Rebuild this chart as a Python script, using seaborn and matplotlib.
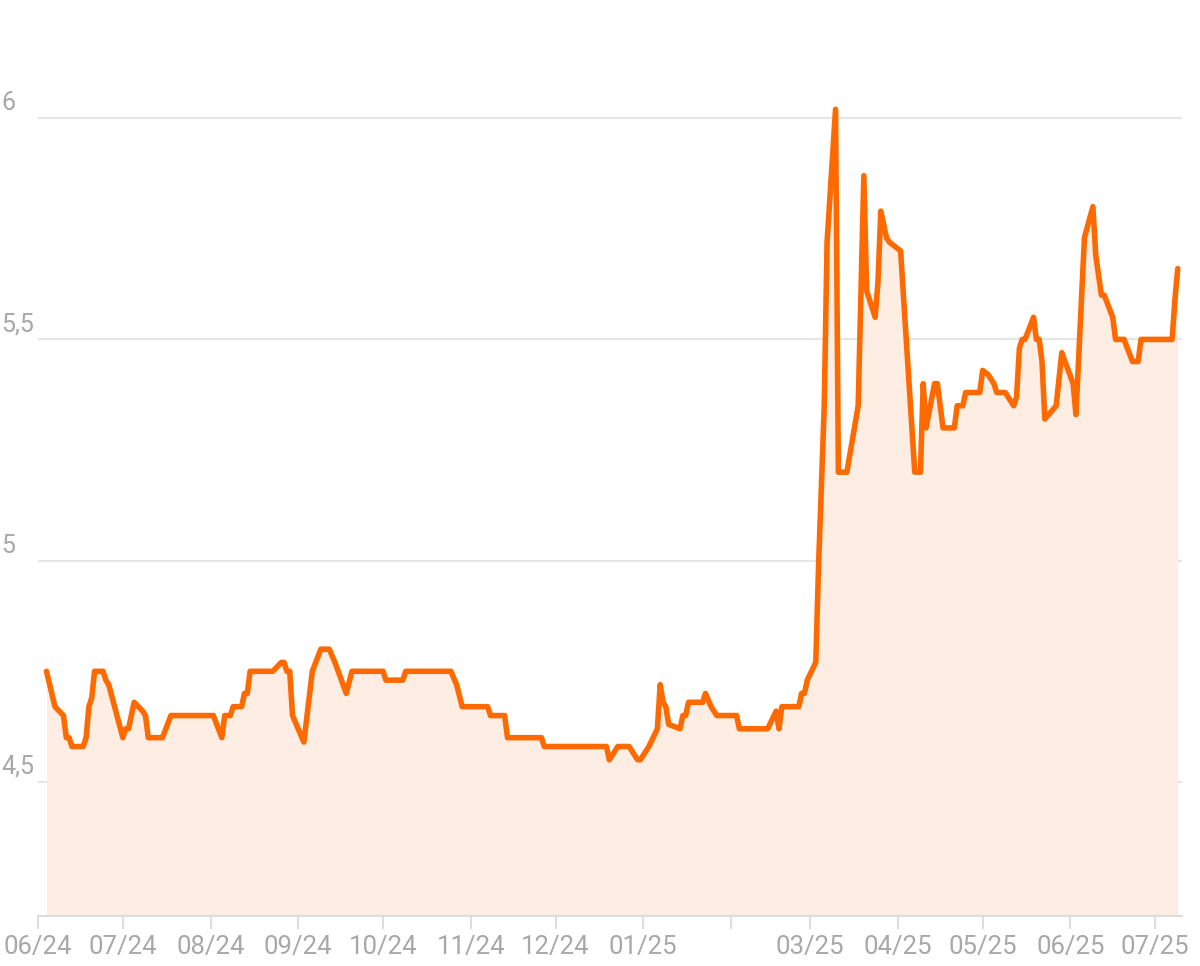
import matplotlib.pyplot as plt
import pandas as pd
import seaborn as sns

# Price history (days after 2024-06-01, price)
start = "2024-06-01"
day = [3, 6, 9, 10, 11, 12, 16, 17, 18, 19, 20, 23, 24, 25, 30, 31, 32, 34, 37, 38,
       39, 44, 47, 62, 65, 66, 68, 69, 72, 73, 74, 75, 83, 86, 87, 88, 89, 90, 94, 97,
       100, 103, 105, 109, 111, 122, 123, 129, 130, 146, 148, 150, 159, 160, 165, 166, 178, 179, 201, 202,
       205, 209, 212, 213, 215, 216, 219, 220, 221, 222, 223, 227, 228, 229, 230, 235, 236, 238, 240, 247,
       248, 258, 261, 262, 263, 269, 270, 271, 272, 275, 276, 278, 279, 282, 283, 286, 290, 292, 293, 296,
       297, 298, 300, 301, 303, 305, 310, 312, 313, 314, 317, 318, 320, 324, 325, 327, 328, 333, 334, 336,
       338, 339, 342, 345, 346, 347, 348, 349, 352, 353, 354, 355, 356, 360, 362, 366, 367, 370, 373, 374,
       376, 377, 380, 381, 384, 387, 389, 390, 401, 402, 403]
price = [4.75, 4.67, 4.65, 4.60, 4.60, 4.58, 4.58, 4.60, 4.67, 4.69, 4.75, 4.75, 4.73, 4.72, 4.60, 4.62, 4.62, 4.68, 4.66, 4.65,
         4.60, 4.60, 4.65, 4.65, 4.60, 4.65, 4.65, 4.67, 4.67, 4.70, 4.70, 4.75, 4.75, 4.77, 4.77, 4.75, 4.75, 4.65, 4.59, 4.75,
         4.80, 4.80, 4.77, 4.70, 4.75, 4.75, 4.73, 4.73, 4.75, 4.75, 4.72, 4.67, 4.67, 4.65, 4.65, 4.60, 4.60, 4.58, 4.58, 4.55,
         4.58, 4.58, 4.55, 4.55, 4.57, 4.58, 4.62, 4.72, 4.68, 4.67, 4.63, 4.62, 4.65, 4.65, 4.68, 4.68, 4.70, 4.67, 4.65, 4.65,
         4.62, 4.62, 4.66, 4.62, 4.67, 4.67, 4.70, 4.70, 4.73, 4.77, 4.99, 5.35, 5.72, 6.02, 5.20, 5.20, 5.35, 5.87, 5.61, 5.55,
         5.63, 5.79, 5.73, 5.72, 5.71, 5.70, 5.20, 5.20, 5.40, 5.30, 5.40, 5.40, 5.30, 5.30, 5.35, 5.35, 5.38, 5.38, 5.43, 5.42,
         5.40, 5.38, 5.38, 5.35, 5.37, 5.48, 5.50, 5.50, 5.55, 5.50, 5.50, 5.45, 5.32, 5.35, 5.47, 5.40, 5.33, 5.73, 5.80, 5.69,
         5.60, 5.60, 5.55, 5.50, 5.50, 5.45, 5.45, 5.50, 5.50, 5.59, 5.66]

y_ticks = [4.5, 5.0, 5.5, 6.0]
y_labels = ["4,5", "5", "5,5", "6"]
month_ticks = pd.date_range("2024-06-01", "2025-07-01", freq="MS")
month_labels = ["06/24", "07/24", "08/24", "09/24", "10/24", "11/24", "12/24",
                "01/25", "", "03/25", "04/25", "05/25", "06/25", "07/25"]

df = pd.DataFrame({"date": pd.Timestamp(start) + pd.to_timedelta(day, unit="D"),
                   "price": price})

sns.set_theme(style="white")
plt.rcParams["font.family"] = ["Roboto", "DejaVu Sans"]

line_color = "#ff6a00"
fill_color = "#fdede3"
text_color = "#a8a8a8"
grid_color = "#e6e6e6"

fig = plt.figure(figsize=(12, 9.66), dpi=100)
ax = fig.add_axes([38 / 1200, 50 / 966, 1144 / 1200, 916 / 966])

y_bottom = 4.197
ax.fill_between(df["date"], df["price"], y_bottom, color=fill_color, lw=0, zorder=1)
sns.lineplot(data=df, x="date", y="price", ax=ax, color=line_color, lw=4, zorder=3)

for v in y_ticks:
    ax.axhline(v, color=grid_color, lw=1.5, zorder=0)
# y labels sit just above their grid lines, at the far left
for v, lab in zip(y_ticks, y_labels):
    ax.annotate(lab, xy=(-0.032, v), xycoords=("axes fraction", "data"),
                xytext=(0, 8), textcoords="offset pixels",
                ha="left", va="baseline", fontsize=18, color=text_color,
                annotation_clip=False)

ax.set_ylim(y_bottom, 6.267)
ax.set_xlim(pd.Timestamp("2024-06-01"), pd.Timestamp("2025-07-10 12:00"))
ax.set_yticks([])
ax.set_xticks(month_ticks)
ax.set_xticklabels(month_labels)
ax.tick_params(axis="x", length=9, width=1.5, color="#dddddd", pad=5,
               labelsize=18.5, labelcolor=text_color, bottom=True)
ax.set_xlabel("")
ax.set_ylabel("")

for side in ["top", "right", "left"]:
    ax.spines[side].set_visible(False)
ax.spines["bottom"].set_color("#dddddd")
ax.spines["bottom"].set_linewidth(1.5)
ax.spines["bottom"].set_zorder(4)

fig.savefig("out.png", dpi=100)
plt.close(fig)
